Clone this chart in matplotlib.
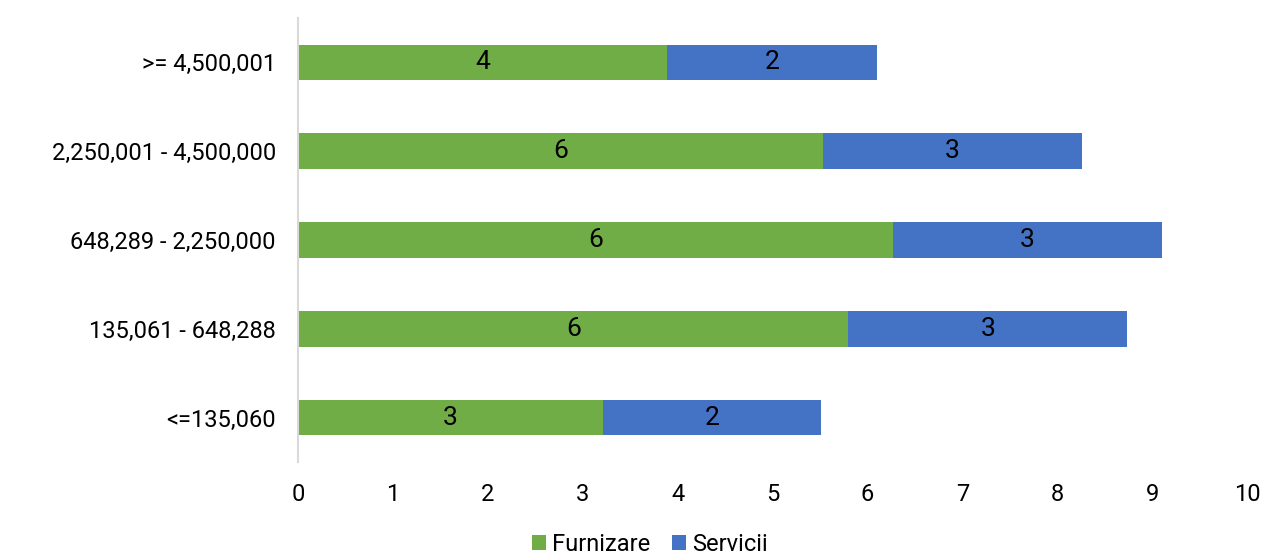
import matplotlib.pyplot as plt
import numpy as np

# value bands (bottom to top as drawn)
categories = ['<=135,060', '135,061 - 648,288', '648,289 - 2,250,000',
              '2,250,001 - 4,500,000', '>= 4,500,001']
furnizare = [3.21, 5.80, 6.27, 5.53, 3.89]
servicii = [2.30, 2.94, 2.83, 2.73, 2.21]

plt.rcParams['font.family'] = ['Roboto', 'DejaVu Sans']

fig = plt.figure(figsize=(12.64, 5.54), dpi=100)
ax = fig.add_axes([0.2358, 0.166, 0.7507, 0.8015])

y = np.arange(len(categories))
bars1 = ax.barh(y, furnizare, height=0.4, color='#70AD47', label='Furnizare')
bars2 = ax.barh(y, servicii, height=0.4, left=furnizare, color='#4472C4', label='Servicii')

# data labels show rounded values
for bars in (bars1, bars2):
    ax.bar_label(bars, labels=['%.0f' % b.get_width() for b in bars],
                 label_type='center', fontsize=19, color='black')

ax.set_xlim(0, 10)
ax.set_ylim(-0.5, 4.5)
ax.set_xticks(range(0, 11))
ax.set_yticks(y)
ax.set_yticklabels(categories)
ax.tick_params(axis='both', length=0, labelsize=17, colors='black')
ax.tick_params(axis='x', pad=15)
ax.tick_params(axis='y', pad=16)

for side in ['top', 'right', 'bottom']:
    ax.spines[side].set_visible(False)
ax.spines['left'].set_color('#d9d9d9')
ax.spines['left'].set_linewidth(1.5)

fig.legend(loc='center', bbox_to_anchor=(0.514, 0.018), ncol=2, frameon=False,
           fontsize=17, handlelength=0.6, handleheight=0.6, handletextpad=0.25,
           columnspacing=0.9)

fig.savefig('out.png')
